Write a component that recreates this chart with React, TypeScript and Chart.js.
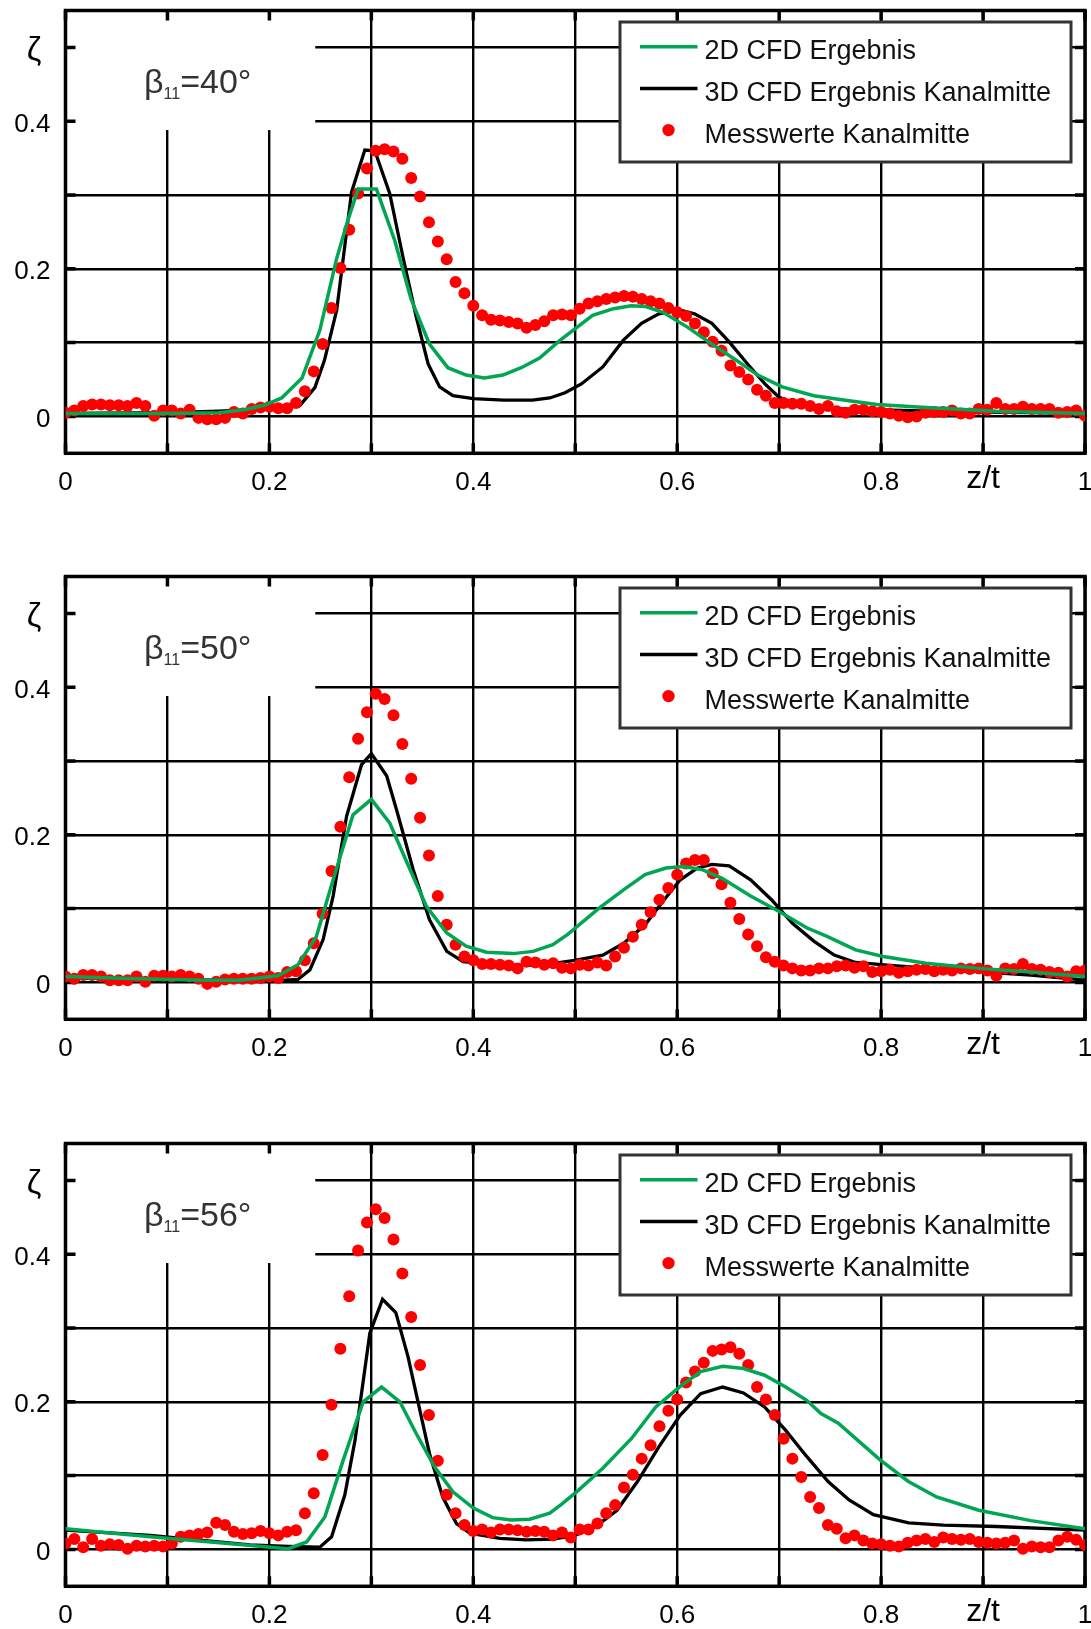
import { useEffect, useRef } from 'react';
import { Chart, registerables } from 'chart.js';

Chart.register(...registerables);

const FONT = '"Liberation Sans", Arial, Helvetica, sans-serif';
Chart.defaults.font.family = FONT;

const GREEN = '#00a651';
const RED = '#ff0000';

// ---------- axes ----------
const X_TICKS = [0, 0.1, 0.2, 0.3, 0.4, 0.5, 0.6, 0.7, 0.8, 0.9, 1.0];
const X_TICK_LABELS = ['0', '', '0.2', '', '0.4', '', '0.6', '', '0.8', 'z/t', '1'];
const Y_TICKS = [0, 0.1, 0.2, 0.3, 0.4, 0.5];
const Y_TICK_LABELS = ['0', '', '0.2', '', '0.4', 'ζ '];
const ANGLES = ['40', '50', '56'];
const SERIES_LABELS = ['2D CFD Ergebnis', '3D CFD Ergebnis Kanalmitte', 'Messwerte Kanalmitte'];

// ---------- measurement traverse positions z/t ----------
const MEAS_X = [
  0, 0.0087, 0.0174, 0.0261, 0.0348, 0.0435, 0.0522, 0.0609, 0.0696, 0.0783,
  0.0870, 0.0957, 0.1043, 0.1130, 0.1217, 0.1304, 0.1391, 0.1478, 0.1565, 0.1652,
  0.1739, 0.1826, 0.1913, 0.2000, 0.2087, 0.2174, 0.2261, 0.2348, 0.2435, 0.2522,
  0.2609, 0.2696, 0.2783, 0.2870, 0.2957, 0.3043, 0.3130, 0.3217, 0.3304, 0.3391,
  0.3478, 0.3565, 0.3652, 0.3739, 0.3826, 0.3913, 0.4000, 0.4087, 0.4174, 0.4261,
  0.4348, 0.4435, 0.4522, 0.4609, 0.4696, 0.4783, 0.4870, 0.4957, 0.5043, 0.5130,
  0.5217, 0.5304, 0.5391, 0.5478, 0.5565, 0.5652, 0.5739, 0.5826, 0.5913, 0.6000,
  0.6087, 0.6174, 0.6261, 0.6348, 0.6435, 0.6522, 0.6609, 0.6696, 0.6783, 0.6870,
  0.6957, 0.7043, 0.7130, 0.7217, 0.7304, 0.7391, 0.7478, 0.7565, 0.7652, 0.7739,
  0.7826, 0.7913, 0.8000, 0.8087, 0.8174, 0.8261, 0.8348, 0.8435, 0.8522, 0.8609,
  0.8696, 0.8783, 0.8870, 0.8957, 0.9043, 0.9130, 0.9217, 0.9304, 0.9391, 0.9478,
  0.9565, 0.9652, 0.9739, 0.9826, 0.9913, 1.0000,
];

// ---------- beta = 40 ----------
const P1_MEAS = [
  0.005, 0.008, 0.014, 0.016, 0.016, 0.015, 0.015, 0.014, 0.018, 0.014,
  0.001, 0.008, 0.008, 0.004, 0.009, -0.002, -0.004, -0.004, -0.002, 0.006,
  0.004, 0.010, 0.012, 0.013, 0.011, 0.011, 0.018, 0.034, 0.061, 0.098,
  0.147, 0.201, 0.253, 0.302, 0.336, 0.360, 0.362, 0.359, 0.349, 0.323,
  0.298, 0.263, 0.237, 0.213, 0.182, 0.167, 0.150, 0.137, 0.131, 0.130,
  0.128, 0.126, 0.120, 0.124, 0.129, 0.137, 0.138, 0.137, 0.146, 0.153,
  0.156, 0.159, 0.161, 0.163, 0.162, 0.159, 0.156, 0.153, 0.147, 0.141,
  0.136, 0.126, 0.114, 0.101, 0.089, 0.069, 0.060, 0.050, 0.036, 0.028,
  0.018, 0.018, 0.017, 0.017, 0.014, 0.010, 0.014, 0.007, 0.005, 0.009,
  0.009, 0.007, 0.006, 0.004, 0.001, -0.001, 0.000, 0.005, 0.006, 0.006,
  0.008, 0.004, 0.004, 0.010, 0.009, 0.018, 0.010, 0.010, 0.013, 0.010,
  0.010, 0.010, 0.005, 0.006, 0.008, 0.001,
];
const P1_2D_X = [0, 0.10, 0.15, 0.175, 0.195, 0.212, 0.232, 0.2495, 0.266, 0.277, 0.287, 0.305, 0.323, 0.339, 0.357, 0.375, 0.393, 0.411, 0.429, 0.447, 0.465, 0.485, 0.517, 0.5375, 0.555, 0.5685, 0.586, 0.610, 0.634, 0.658, 0.679, 0.703, 0.734, 0.765, 0.796, 0.844, 0.913, 1.0];
const P1_2D_Y = [0.004, 0.004, 0.005, 0.009, 0.015, 0.025, 0.052, 0.117, 0.214, 0.266, 0.308, 0.308, 0.238, 0.159, 0.098, 0.066, 0.056, 0.052, 0.056, 0.066, 0.079, 0.103, 0.137, 0.146, 0.150, 0.149, 0.141, 0.121, 0.098, 0.076, 0.056, 0.040, 0.028, 0.022, 0.016, 0.012, 0.007, 0.004];
const P1_3D_X = [0, 0.10, 0.15, 0.20, 0.23, 0.2446, 0.254, 0.266, 0.2806, 0.2936, 0.3034, 0.318, 0.331, 0.344, 0.3557, 0.367, 0.380, 0.400, 0.430, 0.458, 0.475, 0.490, 0.506, 0.527, 0.547, 0.565, 0.582, 0.603, 0.617, 0.634, 0.651, 0.669, 0.686, 0.700, 0.720, 0.760, 0.850, 1.0];
const P1_3D_Y = [0.004, 0.005, 0.007, 0.010, 0.015, 0.039, 0.076, 0.144, 0.304, 0.361, 0.360, 0.302, 0.216, 0.135, 0.071, 0.040, 0.028, 0.024, 0.022, 0.022, 0.025, 0.032, 0.044, 0.067, 0.103, 0.126, 0.139, 0.144, 0.139, 0.126, 0.101, 0.071, 0.044, 0.026, 0.015, 0.010, 0.007, 0.004];

// ---------- beta = 50 ----------
const P2_MEAS = [
  0.008, 0.005, 0.010, 0.010, 0.008, 0.003, 0.003, 0.003, 0.008, 0.001,
  0.009, 0.009, 0.008, 0.010, 0.008, 0.005, -0.002, 0.001, 0.004, 0.005,
  0.005, 0.005, 0.006, 0.008, 0.006, 0.014, 0.015, 0.030, 0.053, 0.093,
  0.151, 0.211, 0.278, 0.330, 0.366, 0.391, 0.384, 0.362, 0.323, 0.276,
  0.223, 0.172, 0.117, 0.078, 0.051, 0.035, 0.030, 0.025, 0.025, 0.024,
  0.023, 0.019, 0.028, 0.027, 0.024, 0.026, 0.020, 0.019, 0.024, 0.023,
  0.027, 0.023, 0.035, 0.047, 0.062, 0.078, 0.095, 0.112, 0.128, 0.146,
  0.161, 0.166, 0.166, 0.148, 0.133, 0.108, 0.086, 0.065, 0.049, 0.034,
  0.028, 0.023, 0.019, 0.016, 0.016, 0.019, 0.019, 0.022, 0.023, 0.020,
  0.022, 0.014, 0.015, 0.017, 0.013, 0.015, 0.017, 0.018, 0.015, 0.017,
  0.016, 0.019, 0.018, 0.019, 0.016, 0.009, 0.019, 0.018, 0.025, 0.018,
  0.017, 0.014, 0.013, 0.008, 0.015, 0.016,
];
const P2_2D_X = [0, 0.07, 0.14, 0.17, 0.2084, 0.228, 0.246, 0.2625, 0.282, 0.300, 0.318, 0.336, 0.354, 0.374, 0.393, 0.413, 0.439, 0.4586, 0.478, 0.4926, 0.5237, 0.548, 0.5685, 0.589, 0.606, 0.624, 0.644, 0.672, 0.700, 0.727, 0.7475, 0.775, 0.802, 0.844, 0.896, 0.947, 1.0];
const P2_2D_Y = [0.008, 0.005, 0.003, 0.003, 0.009, 0.024, 0.062, 0.139, 0.227, 0.248, 0.216, 0.159, 0.103, 0.067, 0.049, 0.041, 0.039, 0.042, 0.051, 0.065, 0.101, 0.126, 0.146, 0.155, 0.157, 0.153, 0.141, 0.117, 0.096, 0.074, 0.062, 0.044, 0.035, 0.026, 0.019, 0.014, 0.008];
const P2_3D_X = [0, 0.10, 0.20, 0.228, 0.2397, 0.2527, 0.2625, 0.2757, 0.2904, 0.300, 0.315, 0.3247, 0.341, 0.357, 0.374, 0.390, 0.420, 0.465, 0.4995, 0.527, 0.5476, 0.5685, 0.586, 0.603, 0.620, 0.634, 0.651, 0.672, 0.6925, 0.713, 0.734, 0.754, 0.775, 0.809, 0.8785, 0.947, 1.0];
const P2_3D_Y = [0.006, 0.004, 0.002, 0.004, 0.017, 0.058, 0.117, 0.225, 0.295, 0.310, 0.280, 0.234, 0.153, 0.085, 0.042, 0.028, 0.024, 0.023, 0.030, 0.037, 0.053, 0.078, 0.110, 0.139, 0.155, 0.160, 0.158, 0.139, 0.112, 0.080, 0.056, 0.037, 0.027, 0.023, 0.016, 0.010, 0.003];

// ---------- beta = 56 ----------
const P3_MEAS = [
  0.008, 0.014, 0.003, 0.014, 0.005, 0.007, 0.006, 0.001, 0.005, 0.004,
  0.005, 0.004, 0.008, 0.017, 0.019, 0.021, 0.023, 0.036, 0.033, 0.024,
  0.021, 0.022, 0.025, 0.022, 0.019, 0.024, 0.026, 0.049, 0.076, 0.128,
  0.196, 0.272, 0.343, 0.405, 0.443, 0.461, 0.449, 0.420, 0.374, 0.315,
  0.250, 0.182, 0.120, 0.074, 0.049, 0.033, 0.025, 0.027, 0.023, 0.027,
  0.027, 0.026, 0.024, 0.025, 0.024, 0.019, 0.023, 0.016, 0.027, 0.027,
  0.035, 0.049, 0.060, 0.084, 0.101, 0.123, 0.141, 0.167, 0.188, 0.203,
  0.226, 0.241, 0.253, 0.269, 0.271, 0.274, 0.265, 0.250, 0.220, 0.203,
  0.182, 0.150, 0.123, 0.098, 0.071, 0.056, 0.033, 0.028, 0.015, 0.019,
  0.012, 0.008, 0.007, 0.005, 0.004, 0.009, 0.012, 0.014, 0.010, 0.016,
  0.014, 0.013, 0.014, 0.010, 0.009, 0.008, 0.009, 0.012, 0.001, 0.004,
  0.003, 0.003, 0.012, 0.017, 0.013, 0.006,
];
const P3_2D_X = [0, 0.083, 0.2185, 0.2365, 0.2544, 0.2724, 0.292, 0.310, 0.328, 0.344, 0.362, 0.380, 0.400, 0.419, 0.437, 0.4554, 0.475, 0.4864, 0.503, 0.527, 0.555, 0.579, 0.603, 0.623, 0.6446, 0.665, 0.6857, 0.7064, 0.727, 0.741, 0.758, 0.7786, 0.7993, 0.8268, 0.8544, 0.8958, 0.9468, 1.0];
const P3_2D_Y = [0.028, 0.017, 0.001, 0.010, 0.044, 0.121, 0.200, 0.220, 0.200, 0.157, 0.112, 0.078, 0.056, 0.043, 0.040, 0.041, 0.049, 0.061, 0.080, 0.110, 0.150, 0.193, 0.221, 0.241, 0.248, 0.245, 0.236, 0.220, 0.202, 0.184, 0.171, 0.146, 0.121, 0.092, 0.071, 0.053, 0.039, 0.028];
const P3_3D_X = [0, 0.083, 0.181, 0.2186, 0.2495, 0.261, 0.274, 0.284, 0.2985, 0.311, 0.324, 0.336, 0.3475, 0.357, 0.370, 0.3835, 0.3966, 0.426, 0.452, 0.4786, 0.4995, 0.520, 0.541, 0.561, 0.582, 0.603, 0.623, 0.6446, 0.665, 0.6857, 0.706, 0.727, 0.748, 0.7686, 0.7925, 0.827, 0.861, 0.913, 1.0];
const P3_3D_Y = [0.026, 0.019, 0.006, 0.004, 0.003, 0.017, 0.074, 0.148, 0.293, 0.339, 0.321, 0.261, 0.189, 0.130, 0.071, 0.035, 0.022, 0.015, 0.013, 0.014, 0.019, 0.031, 0.053, 0.092, 0.139, 0.182, 0.211, 0.220, 0.212, 0.193, 0.162, 0.126, 0.092, 0.067, 0.047, 0.036, 0.033, 0.031, 0.026];

const PANELS = [
  { angle: ANGLES[0], meas: P1_MEAS, x2: P1_2D_X, y2: P1_2D_Y, x3: P1_3D_X, y3: P1_3D_Y },
  { angle: ANGLES[1], meas: P2_MEAS, x2: P2_2D_X, y2: P2_2D_Y, x3: P2_3D_X, y3: P2_3D_Y },
  { angle: ANGLES[2], meas: P3_MEAS, x2: P3_2D_X, y2: P3_2D_Y, x3: P3_3D_X, y3: P3_3D_Y },
];

// ---------- layout ----------
const CANVAS_W = 1091;
const CANVAS_H = 496;
const PANEL_TOPS = [0, 566, 1133];
const PLOT_TOP = 10.5;
const PLOT_H = 442.8;
const Y_AXIS_W = 65.5;
const RIGHT_PAD = 5.5;
const LABEL_BOX_X = 0.245; // white patch behind beta label (data units)
const LABEL_BOX_Y = 0.388;

const zip = (xs: number[], ys: number[]) => xs.map((x, i) => ({ x, y: ys[i] }));

const framePlugin = {
  id: 'frame',
  beforeDatasetsDraw(chart: any, _args: any, opts: any) {
    const { ctx, chartArea: a } = chart;
    const xs = chart.scales.x;
    const ys = chart.scales.y;
    ctx.save();
    const bx = xs.getPixelForValue(LABEL_BOX_X);
    const by = ys.getPixelForValue(LABEL_BOX_Y);
    ctx.fillStyle = '#ffffff';
    ctx.fillRect(a.left, a.top, bx - a.left, by - a.top);
    ctx.strokeStyle = '#000';
    ctx.lineWidth = 3.5;
    ctx.beginPath();
    for (const v of X_TICKS) {
      const px = xs.getPixelForValue(v);
      ctx.moveTo(px, a.top);
      ctx.lineTo(px, a.top + 10);
      ctx.moveTo(px, a.bottom);
      ctx.lineTo(px, a.bottom - 10);
    }
    for (const v of Y_TICKS) {
      const py = ys.getPixelForValue(v);
      ctx.moveTo(a.left, py);
      ctx.lineTo(a.left + 10, py);
      ctx.moveTo(a.right, py);
      ctx.lineTo(a.right - 10, py);
    }
    ctx.stroke();
    ctx.lineWidth = 3.5;
    ctx.strokeRect(a.left, a.top, a.right - a.left, a.bottom - a.top);
    ctx.fillStyle = '#333333';
    ctx.textAlign = 'left';
    ctx.textBaseline = 'alphabetic';
    let tx = a.left + 78.5;
    const ty = a.top + 82;
    ctx.font = `34px ${FONT}`;
    ctx.fillText('β', tx, ty);
    tx += ctx.measureText('β').width;
    ctx.font = `16px ${FONT}`;
    ctx.fillText('11', tx, ty + 6);
    tx += ctx.measureText('11').width;
    ctx.font = `34px ${FONT}`;
    ctx.fillText('=' + opts.angle + '°', tx, ty);
    ctx.restore();
  },
  afterDatasetsDraw(chart: any) {
    const { ctx, chartArea: a } = chart;
    const w = 451;
    const h = 140;
    const lx = a.right - 14 - w;
    const ly = a.top + 11.5;
    ctx.save();
    ctx.fillStyle = '#ffffff';
    ctx.fillRect(lx, ly, w, h);
    ctx.strokeStyle = '#333333';
    ctx.lineWidth = 3;
    ctx.strokeRect(lx, ly, w, h);
    const rows = [24.7, 66.4, 108.1];
    const ds = chart.data.datasets;
    ds.forEach((d: any, i: number) => {
      const ry = ly + rows[i];
      if (d.showLine) {
        ctx.strokeStyle = d.borderColor;
        ctx.lineWidth = 3.5;
        ctx.beginPath();
        ctx.moveTo(lx + 20, ry);
        ctx.lineTo(lx + 77.5, ry);
        ctx.stroke();
      } else {
        ctx.fillStyle = d.backgroundColor;
        ctx.beginPath();
        ctx.arc(lx + 48.5, ry, 6.2, 0, Math.PI * 2);
        ctx.fill();
      }
      ctx.fillStyle = '#111111';
      ctx.font = `27px ${FONT}`;
      ctx.textAlign = 'left';
      ctx.textBaseline = 'alphabetic';
      ctx.fillText(d.label, lx + 84.5, ry + 12.6);
    });
    ctx.restore();
  },
};

function Panel({ idx }: { idx: number }) {
  const ref = useRef<HTMLCanvasElement | null>(null);
  useEffect(() => {
    const p = PANELS[idx];
    const chart = new Chart(ref.current as HTMLCanvasElement, {
      type: 'scatter',
      data: {
        datasets: [
          {
            label: SERIES_LABELS[0],
            data: zip(p.x2, p.y2),
            showLine: true,
            borderColor: GREEN,
            backgroundColor: GREEN,
            borderWidth: 3.5,
            pointRadius: 0,
            tension: 0,
            order: 0,
          },
          {
            label: SERIES_LABELS[1],
            data: zip(p.x3, p.y3),
            showLine: true,
            borderColor: '#000000',
            backgroundColor: '#000000',
            borderWidth: 3.3,
            pointRadius: 0,
            tension: 0,
            order: 2,
          },
          {
            label: SERIES_LABELS[2],
            data: zip(MEAS_X, p.meas),
            showLine: false,
            backgroundColor: RED,
            borderColor: RED,
            borderWidth: 0,
            pointRadius: 6,
            pointBorderWidth: 0,
            order: 1,
          },
        ],
      } as any,
      options: {
        responsive: false,
        maintainAspectRatio: false,
        devicePixelRatio: 1,
        animation: false,
        events: [],
        layout: { padding: { top: PLOT_TOP, right: RIGHT_PAD, left: 0, bottom: 0 } },
        plugins: {
          legend: { display: false },
          tooltip: { enabled: false },
          frame: { angle: p.angle },
        } as any,
        scales: {
          x: {
            type: 'linear',
            min: 0,
            max: 1,
            afterBuildTicks: (s: any) => {
              s.ticks = X_TICKS.map((v) => ({ value: v }));
            },
            afterFit: (s: any) => {
              s.height = CANVAS_H - PLOT_TOP - PLOT_H;
              s.paddingLeft = 0;
              s.paddingRight = 0;
            },
            grid: { color: '#000000', lineWidth: 2.4, drawTicks: false },
            border: { display: false },
            ticks: {
              autoSkip: false,
              maxRotation: 0,
              minRotation: 0,
              padding: 14,
              color: '#000000',
              callback: (_v: any, i: number) => X_TICK_LABELS[i],
              font: (c: any) =>
                c.tick && Math.abs(c.tick.value - 0.9) < 1e-6
                  ? { family: FONT, size: 32, lineHeight: 0.75 }
                  : { family: FONT, size: 26 },
            },
          },
          y: {
            type: 'linear',
            min: -0.05,
            max: 0.55,
            afterBuildTicks: (s: any) => {
              s.ticks = Y_TICKS.map((v) => ({ value: v }));
            },
            afterFit: (s: any) => {
              s.width = Y_AXIS_W;
              s.paddingTop = 0;
              s.paddingBottom = 0;
            },
            grid: { color: '#000000', lineWidth: 2.4, drawTicks: false },
            border: { display: false },
            ticks: {
              autoSkip: false,
              padding: 15,
              labelOffset: 3.5,
              color: '#000000',
              callback: (_v: any, i: number) => Y_TICK_LABELS[i],
              font: (c: any) =>
                c.tick && c.tick.value === 0.5
                  ? { family: FONT, size: 33 }
                  : { family: FONT, size: 26 },
            },
          },
        },
      } as any,
      plugins: [framePlugin],
    });
    return () => chart.destroy();
  }, [idx]);
  return (
    <canvas
      ref={ref}
      width={CANVAS_W}
      height={CANVAS_H}
      style={{ position: 'absolute', left: 0, top: PANEL_TOPS[idx], width: CANVAS_W, height: CANVAS_H }}
    />
  );
}

export default function App() {
  return (
    <div style={{ position: 'absolute', left: 0, top: 0, width: 1091, height: 1629, background: '#ffffff' }}>
      {PANELS.map((_, i) => (
        <Panel key={i} idx={i} />
      ))}
    </div>
  );
}
